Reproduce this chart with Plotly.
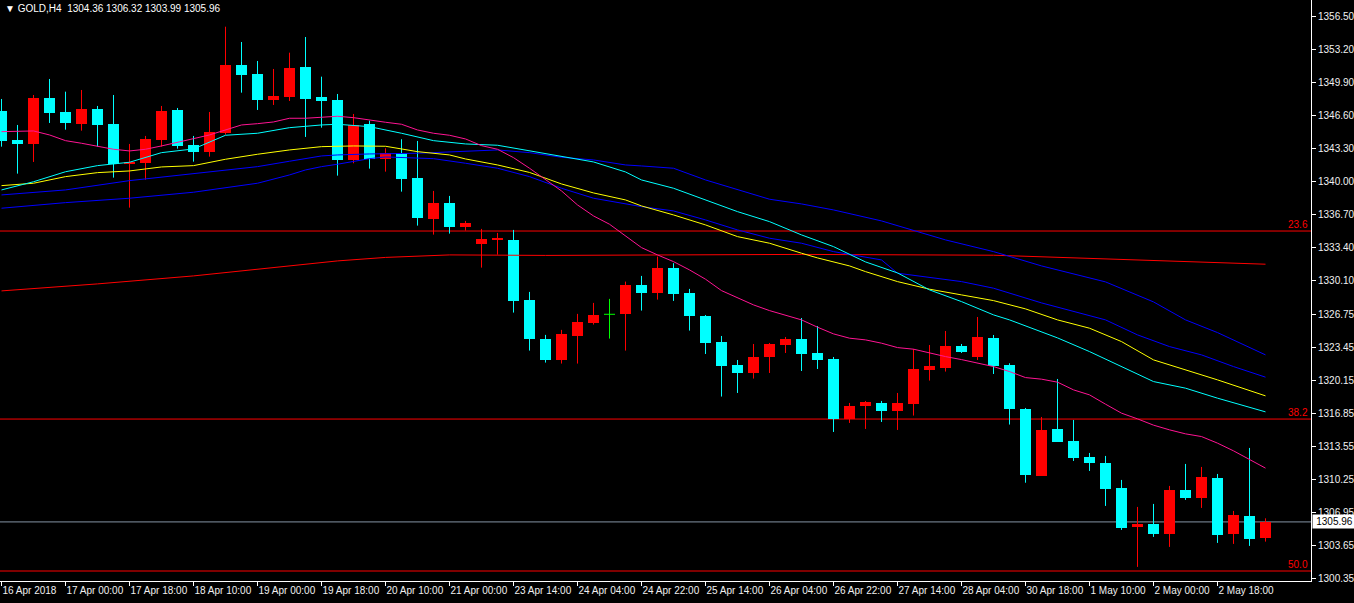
import plotly.graph_objects as go

# ---------------- data ----------------
title_text = "GOLD,H4"
ohlc_text = "1304.36 1306.32 1303.99 1305.96"

opens = [1347.07, 1344.17, 1343.80, 1348.37, 1346.97, 1345.80, 1347.27, 1345.77, 1341.83, 1341.90,
         1344.20, 1347.17, 1343.67, 1343.00, 1344.90, 1351.67, 1350.77, 1348.17, 1348.47, 1351.50,
         1348.50, 1348.17, 1342.17, 1345.77, 1342.24, 1342.84, 1340.37, 1336.30, 1337.87, 1335.50,
         1333.80, 1334.17, 1334.17, 1328.17, 1324.27, 1322.20, 1324.60, 1325.90, 1326.73, 1326.80,
         1329.67, 1328.90, 1331.37, 1328.87, 1326.57, 1323.96, 1321.66, 1320.86, 1322.46, 1323.66,
         1324.26, 1322.86, 1322.26, 1316.26, 1317.60, 1317.86, 1317.10, 1317.80, 1321.20, 1321.40,
         1323.56, 1322.46, 1324.36, 1321.66, 1317.26, 1310.60, 1315.26, 1314.06, 1312.46, 1311.86,
         1309.36, 1305.46, 1305.76, 1304.76, 1309.16, 1308.36, 1310.36, 1304.76, 1306.56, 1304.36]
highs = [1348.27, 1345.67, 1348.67, 1350.27, 1349.00, 1349.17, 1347.57, 1348.67, 1343.77, 1344.57,
         1347.57, 1347.37, 1344.57, 1346.97, 1355.50, 1353.97, 1352.07, 1351.27, 1352.90, 1354.47,
         1350.50, 1348.77, 1346.77, 1346.10, 1343.34, 1344.24, 1344.07, 1339.07, 1338.57, 1336.07,
         1335.27, 1334.87, 1335.17, 1328.97, 1324.67, 1325.17, 1326.77, 1327.87, 1328.27, 1330.00,
         1330.57, 1332.50, 1331.84, 1329.27, 1326.66, 1324.56, 1322.16, 1323.76, 1323.86, 1324.46,
         1326.36, 1325.56, 1322.46, 1317.86, 1318.06, 1318.06, 1318.86, 1323.26, 1323.66, 1325.06,
         1323.76, 1326.46, 1324.66, 1321.83, 1317.36, 1316.46, 1320.26, 1316.16, 1312.86, 1312.56,
         1310.16, 1307.46, 1307.76, 1309.56, 1311.76, 1311.46, 1310.76, 1307.06, 1313.36, 1306.32]
lows = [1343.50, 1340.80, 1341.97, 1345.87, 1345.20, 1345.10, 1343.50, 1340.40, 1337.40, 1340.20,
        1343.50, 1343.30, 1342.00, 1342.50, 1344.70, 1348.90, 1347.17, 1347.67, 1348.07, 1344.47,
        1345.40, 1340.60, 1341.84, 1341.30, 1341.00, 1339.00, 1335.60, 1334.70, 1334.80, 1335.10,
        1331.40, 1332.70, 1326.90, 1323.10, 1321.90, 1321.80, 1321.80, 1325.70, 1324.30, 1323.10,
        1327.10, 1328.20, 1328.07, 1325.10, 1322.76, 1318.50, 1318.86, 1320.30, 1320.86, 1322.86,
        1321.06, 1321.26, 1314.96, 1315.86, 1315.26, 1315.96, 1315.16, 1316.60, 1320.10, 1321.00,
        1322.86, 1322.16, 1320.76, 1315.70, 1309.88, 1310.60, 1313.96, 1312.06, 1311.06, 1307.56,
        1305.16, 1301.46, 1304.46, 1303.46, 1308.16, 1307.36, 1303.86, 1303.76, 1303.56, 1303.99]
closes = [1344.10, 1343.80, 1348.37, 1346.90, 1345.90, 1347.27, 1345.70, 1341.77, 1341.99, 1344.27,
          1347.07, 1343.60, 1343.00, 1344.97, 1351.67, 1350.70, 1348.17, 1348.57, 1351.40, 1348.27,
          1348.07, 1342.17, 1345.64, 1342.24, 1342.84, 1340.30, 1336.40, 1337.87, 1335.50, 1335.87,
          1334.27, 1334.27, 1328.10, 1324.30, 1322.20, 1324.77, 1325.97, 1326.67, 1326.73, 1329.67,
          1328.90, 1331.37, 1328.80, 1326.57, 1323.86, 1321.56, 1320.86, 1322.46, 1323.76, 1324.26,
          1322.76, 1322.16, 1316.26, 1317.56, 1317.96, 1317.10, 1317.86, 1321.26, 1321.56, 1323.56,
          1322.96, 1324.46, 1321.56, 1317.26, 1310.66, 1315.16, 1313.96, 1312.40, 1311.86, 1309.26,
          1305.36, 1305.76, 1304.76, 1309.16, 1308.36, 1310.46, 1304.66, 1306.66, 1304.26, 1305.96]

date_labels = ["16 Apr 2018", "17 Apr 00:00", "17 Apr 18:00", "18 Apr 10:00", "19 Apr 00:00",
               "19 Apr 18:00", "20 Apr 10:00", "21 Apr 00:00", "23 Apr 14:00", "24 Apr 04:00",
               "24 Apr 22:00", "25 Apr 14:00", "26 Apr 04:00", "26 Apr 22:00", "27 Apr 14:00",
               "28 Apr 04:00", "30 Apr 18:00", "1 May 10:00", "2 May 00:00", "2 May 18:00"]
date_label_bars = [0, 4, 8, 12, 16, 20, 24, 28, 32, 36, 40, 44, 48, 52, 56, 60, 64, 68, 72, 76]

price_ticks = [1356.50, 1353.20, 1349.90, 1346.60, 1343.30, 1340.00, 1336.70, 1333.40, 1330.10,
               1326.75, 1323.45, 1320.15, 1316.85, 1313.55, 1310.25, 1306.95, 1303.65, 1300.35]

# moving averages
ma_pink = [1345.00, 1345.07, 1345.07, 1344.67, 1344.10, 1343.84, 1343.57, 1343.24, 1343.07, 1343.24,
           1343.57, 1343.97, 1344.30, 1344.67, 1345.17, 1345.67, 1345.80, 1345.97, 1346.34, 1346.34,
           1346.44, 1346.54, 1346.40, 1346.14, 1345.94, 1345.74, 1345.17, 1344.84, 1344.64, 1344.27,
           1343.60, 1343.24, 1342.40, 1341.34, 1340.17, 1339.07, 1337.67, 1336.57, 1335.74, 1334.57,
           1333.40, 1332.67, 1332.00, 1331.17, 1330.24, 1329.10, 1328.37, 1327.67, 1327.10, 1326.67,
           1326.17, 1325.44, 1324.77, 1324.34, 1324.17, 1323.84, 1323.40, 1323.24, 1322.84, 1322.50,
           1322.20, 1321.87, 1321.50, 1321.00, 1320.40, 1320.24, 1319.94, 1319.17, 1318.67, 1317.74,
           1316.84, 1316.27, 1315.64, 1315.17, 1314.77, 1314.50, 1313.84, 1313.07, 1312.24, 1311.34]
ma_pink_bars = list(range(80))

ma_cyan_bars = [0, 2, 4, 6, 8, 10, 12, 14, 16, 18, 20, 21, 23, 25, 27, 29, 31, 33, 35, 37, 39, 40,
                42, 44, 46, 48, 50, 52, 54, 56, 58, 60, 62, 63, 66, 68, 70, 72, 74, 76, 79]
ma_cyan = [1339.17, 1339.99, 1340.99, 1341.60, 1341.94, 1342.90, 1343.27, 1344.64, 1344.84, 1345.40,
           1345.67, 1345.74, 1345.50, 1344.84, 1344.10, 1343.77, 1343.64, 1343.10, 1342.50, 1341.97,
           1340.97, 1340.17, 1339.34, 1338.17, 1337.00, 1336.00, 1334.67, 1333.50, 1331.97, 1330.87,
           1329.17, 1328.00, 1326.67, 1326.17, 1324.37, 1323.00, 1321.50, 1320.00, 1319.34, 1318.34,
           1316.97]

ma_yellow_bars = [0, 2, 4, 6, 8, 10, 12, 14, 16, 18, 20, 22, 24, 26, 28, 29, 31, 33, 35, 37, 39, 40,
                  42, 44, 46, 48, 50, 51, 53, 54, 56, 58, 60, 62, 64, 66, 68, 70, 72, 74, 76, 79]
ma_yellow = [1339.60, 1339.84, 1340.50, 1340.90, 1341.07, 1341.47, 1341.60, 1342.24, 1342.74, 1343.17,
             1343.50, 1343.57, 1343.54, 1343.00, 1342.67, 1342.27, 1341.67, 1340.92, 1339.77, 1338.87,
             1338.17, 1337.57, 1336.67, 1335.67, 1334.50, 1333.84, 1332.84, 1332.37, 1331.57, 1331.00,
             1330.00, 1329.24, 1328.67, 1328.10, 1327.27, 1326.17, 1325.34, 1324.00, 1322.17, 1321.17,
             1320.17, 1318.57]

ma_blue_slow_bars = [0, 4, 8, 12, 16, 18, 20, 21, 23, 26, 29, 31, 33, 35, 37, 39, 40, 42, 44, 46,
                     48, 50, 52, 55, 59, 62, 65, 69, 72, 74, 76, 79]
ma_blue_slow = [1338.67, 1339.17, 1340.10, 1340.77, 1341.50, 1342.04, 1342.57, 1342.67, 1342.77,
                1342.84, 1343.00, 1343.17, 1342.90, 1342.44, 1342.17, 1341.67, 1341.57, 1341.34,
                1340.17, 1339.17, 1338.24, 1337.77, 1337.17, 1336.07, 1334.17, 1333.00, 1331.57,
                1329.97, 1327.97, 1326.17, 1324.90, 1322.67]

ma_blue_fast_bars = [0, 4, 8, 12, 16, 18, 19, 20, 21, 23, 24, 27, 29, 31, 33, 35, 37, 40, 42, 44,
                     46, 48, 50, 52, 55, 56, 60, 62, 65, 69, 71, 73, 75, 77, 79]
ma_blue_fast = [1337.34, 1337.90, 1338.34, 1338.94, 1339.84, 1340.67, 1341.17, 1341.50, 1341.74,
                1342.30, 1342.47, 1342.30, 1341.84, 1341.34, 1340.50, 1339.34, 1338.34, 1337.50,
                1337.07, 1336.17, 1335.17, 1334.34, 1333.84, 1333.00, 1332.17, 1330.84, 1330.00,
                1329.34, 1327.87, 1326.17, 1324.67, 1323.50, 1322.67, 1321.50, 1320.44]

ma_red_bars = [0, 6, 12, 18, 21, 24, 28, 34, 40, 50, 62, 69, 75, 79]
ma_red = [1329.07, 1329.77, 1330.57, 1331.57, 1332.07, 1332.42, 1332.67, 1332.62, 1332.64,
          1332.72, 1332.64, 1332.27, 1331.92, 1331.74]

fib_levels = ["23.6", "38.2", "50.0"]
fib_prices = [1335.06, 1316.25, 1301.05]

# ---------------- styling ----------------
BULL = "#FF0000"
BEAR = "#00FFFF"
DOJI = "#00FF00"
FONT = "Liberation Sans, Arial, sans-serif"
TXT = "#F0F0F0"
AXIS_FS = 10
BODY_W = 11 / 16

n = len(opens)
idx = list(range(n))

def kind(o, c):
    if c > o:
        return "bull"
    if c < o:
        return "bear"
    return "doji"

kinds = [kind(o, c) for o, c in zip(opens, closes)]
col_map = {"bull": BULL, "bear": BEAR, "doji": DOJI}

fig = go.Figure()

# wicks, one trace per colour
for k in ("bull", "bear", "doji"):
    xs, ys = [], []
    for i in idx:
        if kinds[i] == k:
            xs += [i, i, None]
            ys += [lows[i], highs[i], None]
    fig.add_trace(go.Scatter(x=xs, y=ys, mode="lines",
                             line=dict(color=col_map[k], width=1),
                             hoverinfo="skip"))

# bodies
fig.add_trace(go.Bar(
    x=idx,
    y=[abs(c - o) for o, c in zip(opens, closes)],
    base=[min(o, c) for o, c in zip(opens, closes)],
    width=BODY_W,
    marker=dict(color=[col_map[k] for k in kinds], line=dict(width=0)),
    hoverinfo="skip",
))

# doji bars (open == close) drawn as horizontal dash
dx, dy = [], []
for i in idx:
    if kinds[i] == "doji":
        dx += [i - BODY_W / 2, i + BODY_W / 2, None]
        dy += [opens[i], opens[i], None]
fig.add_trace(go.Scatter(x=dx, y=dy, mode="lines", line=dict(color=DOJI, width=1), hoverinfo="skip"))

# moving averages
for xs, ys, c in [
    (ma_red_bars, ma_red, "#FF0000"),
    (ma_blue_slow_bars, ma_blue_slow, "#0000FF"),
    (ma_blue_fast_bars, ma_blue_fast, "#0000FF"),
    (ma_yellow_bars, ma_yellow, "#FFFF00"),
    (ma_cyan_bars, ma_cyan, "#00FFFF"),
    (ma_pink_bars, ma_pink, "#FF1493"),
]:
    fig.add_trace(go.Scatter(x=xs, y=ys, mode="lines", line=dict(color=c, width=1), hoverinfo="skip"))

shapes = []
annotations = []
for lab, p in zip(fib_levels, fib_prices):
    shapes.append(dict(type="line", xref="paper", x0=0, x1=1, yref="y", y0=p, y1=p,
                       line=dict(color="#FF0000", width=1), layer="below"))
    annotations.append(dict(text=lab, xref="paper", x=1, xanchor="right", xshift=-1,
                            yref="y", y=p, yanchor="bottom", yshift=-1, showarrow=False,
                            font=dict(color="#FF0000", size=AXIS_FS, family=FONT)))

last = closes[-1]
shapes.append(dict(type="line", xref="paper", x0=0, x1=1, yref="y", y0=last, y1=last,
                   line=dict(color="#8494A4", width=1), layer="below"))
annotations.append(dict(text=f"{last:.2f}", xref="paper", x=1, xanchor="left", xshift=1,
                        yref="y", y=last, yanchor="middle", showarrow=False,
                        bgcolor="#FFFFFF", borderpad=1, width=41,
                        font=dict(color="#000000", size=AXIS_FS, family=FONT)))
annotations.append(dict(text="\u25BC " + title_text + "\u00a0\u00a0" + ohlc_text,
                        xref="paper", x=0, xanchor="left", xshift=3,
                        yref="paper", y=1, yanchor="top", yshift=-1, showarrow=False,
                        font=dict(color="#FFFFFF", size=AXIS_FS, family=FONT)))

fig.update_layout(
    width=1354, height=603,
    margin=dict(l=0, r=43, t=0, b=22, autoexpand=False),
    paper_bgcolor="#000000", plot_bgcolor="#000000",
    showlegend=False, bargap=0,
    shapes=shapes, annotations=annotations,
    xaxis=dict(range=[-1.5 / 16, -1.5 / 16 + 1311 / 16],
               tickvals=date_label_bars, ticktext=date_labels,
               tickangle=0, automargin=False,
               ticks="outside", ticklen=4, tickcolor="#FFFFFF",
               ticklabelposition="outside right",
               showline=True, linecolor="#FFFFFF", linewidth=1,
               showgrid=False, zeroline=False, fixedrange=True,
               tickfont=dict(color=TXT, size=AXIS_FS, family=FONT)),
    yaxis=dict(side="right", range=[1300.05, 1358.17], automargin=False,
               tickvals=price_ticks, ticktext=[f"{v:.2f}" for v in price_ticks],
               ticks="outside", ticklen=4, tickcolor="#FFFFFF",
               showline=True, linecolor="#FFFFFF", linewidth=1,
               showgrid=False, zeroline=False, fixedrange=True,
               tickfont=dict(color=TXT, size=AXIS_FS, family=FONT)),
)

fig.write_html(
    "out.html",
    config={"displayModeBar": False},
    post_script="document.body.style.margin='0';document.body.style.background='#000';",
)
